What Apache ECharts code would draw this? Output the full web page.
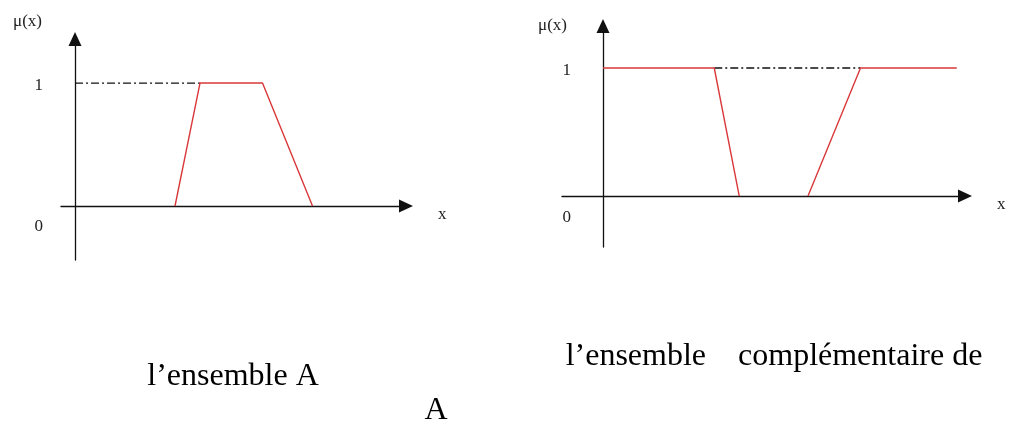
<!DOCTYPE html>
<html>
<head>
<meta charset="utf-8">
<script src="https://cdn.jsdelivr.net/npm/echarts@6/dist/echarts.min.js"></script>
<style>
html,body{margin:0;padding:0;background:#fff;}
#chart{width:1018px;height:425px;}
</style>
</head>
<body>
<div id="chart"></div>
<script>
// ---- data ----
// Left chart: fuzzy set A (trapezoid)
const setAX = [4, 5, 7.5, 9.5];
const setAY = [0, 1, 1, 0];
const setADashX = [0, 5];
const setADashY = [1, 1];
// Right chart: complement of A
const compLeftX = [0, 4.45, 5.45];
const compLeftY = [1, 1, 0];
const compRightX = [8.2, 10.3, 14.15];
const compRightY = [0, 1, 1];
const compDashX = [4.45, 10.3];
const compDashY = [1, 1];
// tick labels
const yTicks = [0, 1];
const yAxisName = 'μ(x)';
const xAxisName = 'x';
const captionA = 'l\u2019ensemble A';
const captionComp = 'l\u2019ensemble    compl\u00e9mentaire de';
const captionComp2 = 'A';

const pairs = (xs, ys) => xs.map((x, i) => [x, ys[i]]);

const RED = '#d8383a';
const AXIS = '#111';
const TXT = '#222';
const labelFont = 'Liberation Serif';

function makeX(gridIndex, min, max) {
  return {
    type: 'value', gridIndex, min, max,
    name: xAxisName, nameLocation: 'end', nameGap: 32,
    nameTextStyle: {color: TXT, fontFamily: labelFont, fontSize: 17, align: 'left', verticalAlign: 'top', lineHeight: 17},
    axisLine: {onZero: true, lineStyle: {color: AXIS, width: 1.3}, symbol: ['none', 'triangle'], symbolSize: [13, 14]},
    axisTick: {show: false}, axisLabel: {show: false}, splitLine: {show: false}
  };
}
function makeY(gridIndex, min, max, nameGap, padRight, labelMargin) {
  return {
    type: 'value', gridIndex, min, max,
    name: yAxisName, nameLocation: 'end', nameGap,
    nameTextStyle: {color: TXT, fontFamily: labelFont, fontSize: 17, align: 'right', verticalAlign: 'middle', padding: [0, padRight, 0, 0]},
    axisLine: {onZero: true, lineStyle: {color: AXIS, width: 1.3}, symbol: ['none', 'triangle'], symbolSize: [13, 14]},
    axisTick: {show: false}, splitLine: {show: false},
    axisLabel: {
      customValues: yTicks, margin: labelMargin, color: TXT, fontFamily: labelFont, fontSize: 17,
      formatter: v => v === 0 ? '{z|0}' : '{o|' + v + '}',
      rich: {
        z: {fontFamily: labelFont, fontSize: 17, color: TXT, padding: [42, 0, 0, 0]},
        o: {fontFamily: labelFont, fontSize: 17, color: TXT, padding: [6, 0, 0, 0]}
      }
    }
  };
}
function redLine(xi, data) {
  return {type: 'line', xAxisIndex: xi, yAxisIndex: xi, data, showSymbol: false, symbol: 'none',
    lineStyle: {color: RED, width: 1.4}, z: 3, animation: false};
}
function dashLine(xi, data) {
  return {type: 'line', xAxisIndex: xi, yAxisIndex: xi, data, showSymbol: false, symbol: 'none',
    lineStyle: {color: '#111', width: 1.3, type: [8, 3, 2, 3]}, z: 2, animation: false};
}

const chart = echarts.init(document.getElementById('chart'), null, {renderer: 'canvas'});
chart.setOption({
  backgroundColor: '#fff',
  animation: false,
  grid: [
    {left: 61, right: 612, top: 39, bottom: 165},
    {left: 562, right: 53, top: 26, bottom: 178}
  ],
  xAxis: [makeX(0, -0.56, 13.24), makeX(1, -1.64, 14.48)],
  yAxis: [makeY(0, -0.439, 1.358, 17, 33, 18), makeY(1, -0.398, 1.328, 0, 36, -9)],
  series: [
    dashLine(0, pairs(setADashX, setADashY)),
    redLine(0, pairs(setAX, setAY)),
    dashLine(1, pairs(compDashX, compDashY)),
    redLine(1, pairs(compLeftX, compLeftY)),
    redLine(1, pairs(compRightX, compRightY))
  ],
  graphic: [
    {type: 'text', x: 233, y: 377, style: {text: captionA, font: '32px "Liberation Serif"', fill: '#000', align: 'center', verticalAlign: 'middle'}},
    {type: 'text', x: 774, y: 357, style: {text: captionComp, font: '32px "Liberation Serif"', fill: '#000', align: 'center', verticalAlign: 'middle'}},
    {type: 'text', x: 436, y: 411, style: {text: captionComp2, font: '32px "Liberation Serif"', fill: '#000', align: 'center', verticalAlign: 'middle'}}
  ]
});
</script>
</body>
</html>
